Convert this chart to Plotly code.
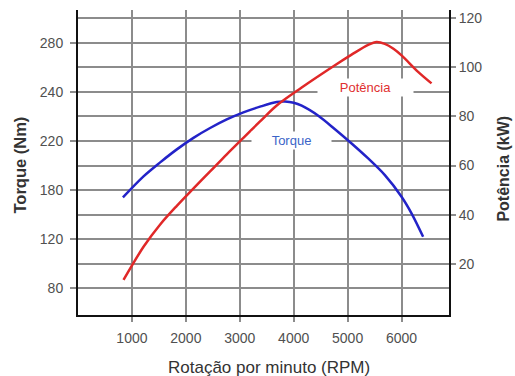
import numpy as np
import plotly.graph_objects as go

# ---- data ----
rpm_torque = [833, 1215, 1524, 1833, 2141, 2450, 2759, 3067, 3376, 3685, 3839, 4000,
              4148, 4456, 4765, 5074, 5381, 5691, 6000, 6185, 6400]
torque_nm = [171.1, 191.2, 202.6, 213.2, 221.3, 225.3, 228.8, 231.7, 234.0, 235.9, 236.1, 235.6,
             234.4, 230.3, 224.8, 218.0, 205.8, 192.2, 171.9, 151.6, 123.0]

rpm_power = [844, 1215, 1524, 1833, 2080, 2450, 2759, 3067, 3376, 3685, 4148,
             4456, 4765, 5074, 5381, 5537, 5691, 5850, 6000, 6307, 6556]
power_kw = [13.4, 26.9, 36.0, 43.6, 49.3, 57.6, 64.6, 71.3, 78.0, 84.5, 91.8,
            96.4, 100.9, 105.2, 109.2, 110.4, 109.6, 107.6, 104.9, 98.2, 93.5]

x_ticks = [1000, 2000, 3000, 4000, 5000, 6000]
torque_tick_labels = [80, 120, 180, 220, 240, 280]     # left axis labels (as printed)
torque_tick_pos = [10, 30, 50, 70, 90, 110]            # where they sit on the shared scale
power_ticks = [20, 40, 60, 80, 100, 120]

# the left axis of the original is not linear: place torque via its printed ticks
torque_pos = np.interp(torque_nm, torque_tick_labels, torque_tick_pos)

FONT = "Arial, Liberation Sans, sans-serif"
GRID = "#8c8c8c"
YR = [-0.9, 123.4]

fig = go.Figure()
fig.add_trace(go.Scatter(x=rpm_torque, y=torque_pos, mode="lines",
                         line=dict(color="#2323c8", width=2.5, shape="spline", smoothing=0.9),
                         yaxis="y", hoverinfo="skip", showlegend=False))
fig.add_trace(go.Scatter(x=rpm_power, y=power_kw, mode="lines",
                         line=dict(color="#e02828", width=2.5, shape="spline", smoothing=0.9),
                         yaxis="y2", hoverinfo="skip", showlegend=False))

fig.update_layout(
    width=515, height=376,
    margin=dict(l=78, r=66, t=10, b=61),
    paper_bgcolor="white", plot_bgcolor="white",
    font=dict(family=FONT, color="#505050", size=14),
    xaxis=dict(range=[0, 6880], tickvals=x_ticks, showgrid=True, gridcolor=GRID, gridwidth=1.5,
               zeroline=False, showline=True, linecolor="#111", linewidth=2,
               ticks="outside", ticklen=5, tickcolor=GRID, tickwidth=1.5,
               ticklabelstandoff=4, tickfont=dict(size=14, color="#505050"), fixedrange=True),
    yaxis=dict(range=YR, tickvals=torque_tick_pos, ticktext=[str(v) for v in torque_tick_labels],
               showgrid=True, gridcolor=GRID, gridwidth=1.5, zeroline=False,
               showline=True, linecolor="#111", linewidth=2,
               ticks="outside", ticklen=6, tickcolor=GRID, tickwidth=1.5,
               ticklabelstandoff=4, tickfont=dict(size=14, color="#505050")),
    yaxis2=dict(range=YR, tickvals=power_ticks, overlaying="y", side="right",
                showgrid=True, gridcolor=GRID, gridwidth=1.5, zeroline=False,
                showline=True, linecolor="#111", linewidth=2,
                ticks="outside", ticklen=5, tickcolor=GRID, tickwidth=1.5,
                tickfont=dict(size=14, color="#505050")),
    annotations=[
        dict(text="Potência", x=5340, y=91.9, xref="x", yref="y2", showarrow=False,
             font=dict(color="#e03030", size=13), bgcolor="white", width=93, borderpad=1),
        dict(text="Torque", x=3950, y=70.4, xref="x", yref="y", showarrow=False,
             font=dict(color="#3a64c8", size=13), bgcolor="white", width=77, borderpad=1),
        dict(text="<b>Torque (Nm)</b>", x=0, y=0.49, xref="paper", yref="paper",
             xanchor="center", yanchor="middle", xshift=-58, textangle=-90, showarrow=False,
             font=dict(size=16.5, color="#333")),
        dict(text="<b>Potência (kW)</b>", x=1, y=0.48, xref="paper", yref="paper",
             xanchor="center", yanchor="middle", xshift=55, textangle=-90, showarrow=False,
             font=dict(size=16, color="#333")),
        dict(text="Rotação por minuto (RPM)", x=0.515, y=0, xref="paper", yref="paper",
             xanchor="center", yanchor="middle", yshift=-52, showarrow=False,
             font=dict(size=17, color="#333")),
    ],
)

fig.write_html("out.html", config={"displayModeBar": False},
               post_script="document.body.style.margin='0';")
